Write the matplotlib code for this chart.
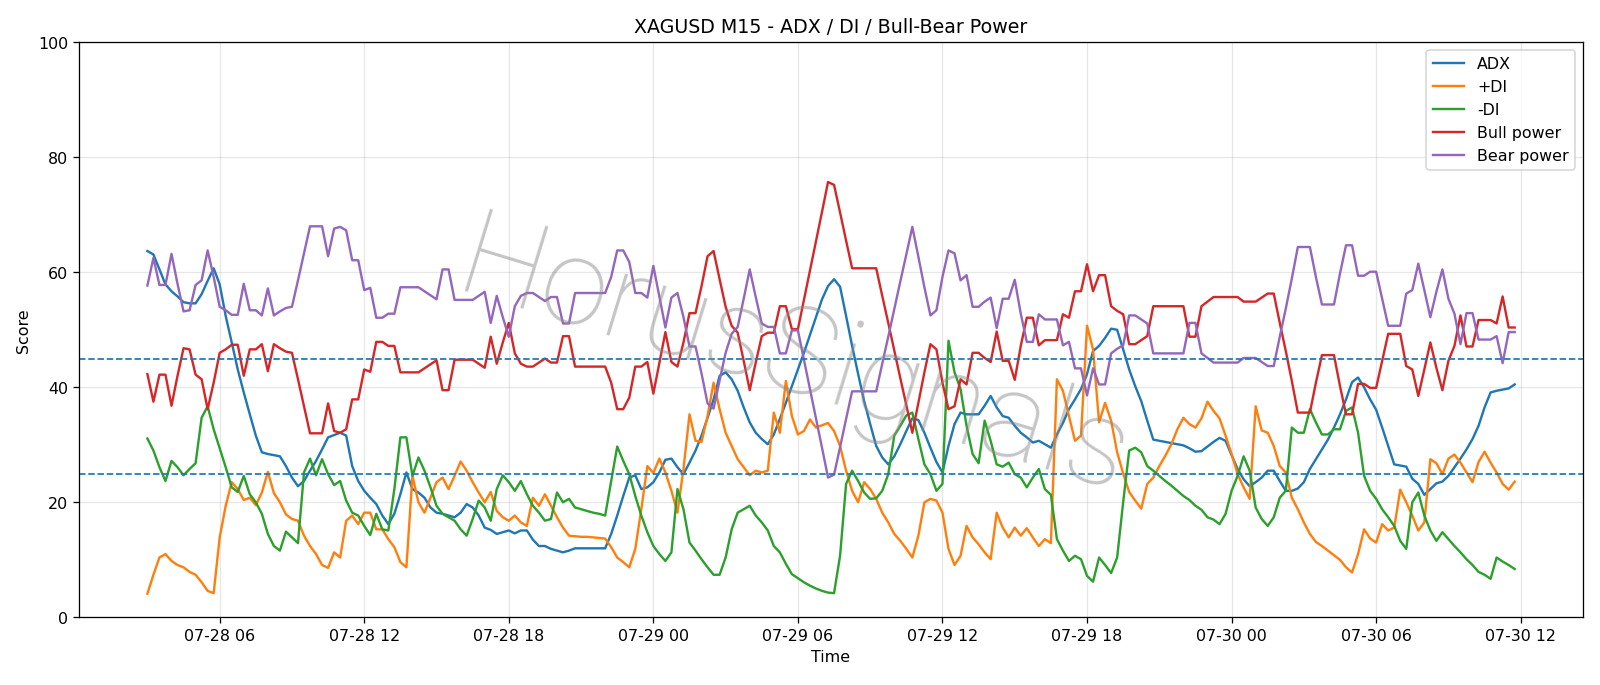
import matplotlib
matplotlib.use("Agg")
import matplotlib.pyplot as plt
import matplotlib.dates as mdates
from matplotlib.font_manager import FontProperties
import pandas as pd

# ---- data (15-minute bars, 2025-07-28 03:00 .. 2025-07-30 11:45) ----
start_time = "2025-07-28 03:00"
n_bars = 228

adx = [
    63.7, 63.1, 60.5, 57.9, 56.7, 55.8, 54.8, 54.6, 54.6, 56.2, 58.5, 60.7, 57.9, 52.4, 47.8, 43.1,
    39.1, 35.3, 31.6, 28.7, 28.4, 28.2, 28.0, 26.3, 24.3, 22.8, 23.7, 25.5, 27.2, 29.2, 31.3, 31.7,
    32.1, 31.6, 26.3, 23.7, 22.0, 20.8, 19.7, 17.7, 16.2, 18.0, 21.4, 25.2, 22.3, 21.7, 20.8, 19.1,
    18.2, 18.0, 17.7, 17.4, 18.2, 19.7, 19.1, 17.7, 15.6, 15.2, 14.5, 14.8, 15.1, 14.6, 15.1, 15.1, 13.5,
    12.4, 12.4, 11.9, 11.6, 11.3, 11.6, 12.0, 12.0, 12.0, 12.0, 12.0, 12.0, 14.5, 17.7, 21.1, 24.3,
    24.7, 22.3, 22.6, 23.5, 25.2, 27.4, 27.6, 26.1, 24.9, 26.9, 29.0, 31.6, 34.7, 37.9, 42.0, 42.6,
    41.4, 39.4, 36.5, 33.9, 32.1, 31.0, 30.1, 31.8, 34.5, 37.3, 40.2, 43.1, 46.0, 49.1, 52.2, 55.3,
    57.6, 58.8, 57.5, 52.4, 47.2, 42.3, 37.6, 33.6, 29.8, 27.8, 26.6, 28.0, 30.1, 32.4, 34.6,
    34.3, 32.1, 29.5, 27.0, 25.2, 29.8, 33.6, 35.6, 35.3, 35.3, 35.3, 36.8, 38.5, 36.5, 35.0, 34.7,
    33.3, 32.1, 31.3, 30.4, 30.7, 30.1, 29.5, 31.8, 33.8, 36.2, 37.9, 39.7, 42.3, 46.3, 47.2, 48.6, 50.2,
    50.0, 46.6, 43.1, 40.2, 37.6, 34.2, 30.9, 30.7, 30.5, 30.3, 30.1, 29.9, 29.4, 28.8, 28.9, 29.7,
    30.5, 31.2, 30.7, 28.2, 25.8, 24.0, 22.8, 23.5, 24.3, 25.5, 25.5, 23.7, 22.0, 22.0, 22.4, 23.5,
    25.8, 27.5, 29.2, 30.9, 33.0, 35.3, 37.9, 40.9, 41.7, 40.0, 37.9, 36.1, 33.0, 29.8, 26.6, 26.4,
    26.2, 24.1, 23.2, 21.3, 22.3, 23.3, 23.6, 24.6, 26.1, 27.6, 29.2, 31.0, 33.3, 36.5, 39.1, 39.4,
    39.6, 39.8, 40.5,
]

plus_di = [
    4.1, 7.4, 10.4, 11.0, 9.8, 9.1, 8.7, 7.9, 7.4, 6.1, 4.6, 4.2, 13.9, 19.4, 23.5, 22.3,
    20.4, 20.8, 19.5, 21.7, 25.3, 21.6, 20.0, 17.9, 17.1, 16.8, 14.2, 12.4, 11.0, 9.1, 8.6, 11.3,
    10.4, 16.8, 17.7, 16.2, 18.2, 18.2, 15.3, 15.3, 13.6, 12.2, 9.6, 8.7, 24.6, 20.0, 18.2, 20.8,
    23.5, 24.3, 22.3, 24.6, 27.1, 25.5, 23.5, 21.7, 20.0, 21.8, 18.5, 17.4, 16.8, 17.7, 16.5, 15.9, 20.8,
    19.4, 21.4, 19.4, 17.4, 15.6, 14.2, 14.1, 14.0, 14.0, 13.9, 13.8, 13.7, 12.2, 10.4, 9.6, 8.7,
    11.9, 18.8, 26.3, 25.1, 27.6, 25.2, 22.0, 18.2, 25.8, 35.3, 30.7, 30.5, 35.0, 40.8, 36.2, 32.1,
    29.8, 27.5, 26.1, 24.7, 25.5, 25.2, 25.5, 35.6, 32.1, 41.1, 35.0, 31.8, 32.4, 34.4, 33.0, 33.4,
    33.8, 32.4, 29.8, 25.5, 22.0, 20.0, 23.5, 22.3, 20.6, 18.2, 16.5, 14.5, 13.3, 11.9, 10.4,
    14.2, 20.0, 20.6, 20.3, 18.2, 11.9, 9.1, 10.7, 15.9, 13.9, 12.7, 11.3, 10.1, 18.2, 15.6, 13.9,
    15.6, 14.2, 15.5, 13.9, 12.4, 13.6, 12.9, 41.4, 39.4, 35.0, 30.7, 31.6, 50.7, 46.6, 33.9, 37.3, 34.2,
    28.7, 25.0, 21.8, 20.3, 18.9, 23.2, 24.3, 26.3, 28.1, 30.1, 32.7, 34.7, 33.6, 33.0, 34.6, 37.5,
    35.9, 34.6, 31.6, 28.4, 24.9, 22.6, 20.6, 36.7, 32.5, 32.1, 29.8, 26.3, 25.2, 20.8, 18.8, 16.5,
    14.5, 13.1, 12.4, 11.6, 10.8, 10.0, 8.7, 7.8, 11.0, 15.3, 13.7, 13.0, 16.2, 15.1, 15.6, 22.2,
    20.0, 17.7, 15.1, 16.5, 27.5, 26.8, 24.9, 27.6, 28.3, 26.9, 25.2, 23.5, 27.0, 28.8, 26.9, 25.2,
    23.2, 22.2, 23.6,
]

minus_di = [
    31.1, 29.0, 26.1, 23.7, 27.2, 26.1, 24.7, 25.8, 26.8, 34.7, 36.7, 32.7, 29.4, 26.1, 22.6, 21.8,
    24.6, 21.4, 20.0, 18.0, 14.5, 12.4, 11.6, 14.9, 13.9, 12.9, 25.2, 27.6, 24.7, 27.5, 24.9, 23.0,
    23.7, 20.3, 18.2, 17.7, 15.9, 14.3, 18.0, 15.3, 15.1, 22.3, 31.3, 31.3, 24.6, 27.8, 25.5, 22.6,
    19.4, 18.0, 17.4, 16.8, 15.3, 14.2, 17.1, 20.3, 19.1, 16.8, 22.3, 24.7, 23.5, 22.0, 23.7, 21.4, 19.4,
    18.2, 16.8, 17.1, 21.7, 20.0, 20.6, 19.1, 18.8, 18.5, 18.2, 18.0, 17.7, 23.7, 29.7, 27.2, 24.9,
    21.1, 17.7, 14.8, 12.4, 11.0, 9.8, 11.3, 22.3, 18.8, 13.0, 11.6, 10.1, 8.7, 7.4, 7.4, 10.4,
    15.3, 18.2, 18.8, 19.4, 17.7, 16.5, 15.1, 12.4, 11.3, 9.3, 7.5, 6.8, 6.1, 5.5, 5.0, 4.6,
    4.3, 4.2, 10.7, 23.2, 25.5, 23.7, 21.7, 20.6, 20.7, 22.0, 24.9, 31.6, 33.3, 35.1, 35.6,
    31.0, 26.6, 24.9, 22.0, 23.2, 48.1, 42.6, 39.7, 33.3, 28.4, 26.8, 34.2, 30.7, 26.6, 26.2, 26.9,
    24.9, 24.3, 22.6, 24.3, 25.8, 22.3, 21.3, 13.6, 11.6, 9.8, 10.7, 10.1, 7.2, 6.2, 10.4, 9.1, 7.7,
    10.4, 20.0, 29.0, 29.5, 28.7, 26.3, 25.5, 24.6, 23.7, 22.9, 22.0, 21.1, 20.4, 19.4, 18.7, 17.4,
    17.0, 16.2, 18.0, 22.0, 24.6, 28.0, 25.5, 19.1, 17.1, 15.9, 17.4, 20.8, 22.0, 33.0, 32.1, 32.1,
    36.2, 33.9, 31.8, 31.8, 32.7, 32.7, 35.9, 36.5, 32.1, 24.6, 22.0, 20.6, 18.8, 17.4, 15.9, 13.3,
    11.9, 20.0, 21.7, 17.7, 15.1, 13.3, 14.8, 13.6, 12.4, 11.3, 10.1, 9.1, 7.9, 7.4, 6.7, 10.4,
    9.7, 9.1, 8.4,
]

bull_power = [
    42.3, 37.5, 42.2, 42.2, 36.8, 42.0, 46.8, 46.6, 42.2, 41.4, 36.2, 40.8, 46.0, 46.6, 47.4, 47.4,
    42.0, 46.6, 46.6, 47.5, 42.8, 47.5, 46.8, 46.2, 46.0, 41.4, 36.7, 32.0, 32.0, 32.0, 37.2, 32.4,
    32.1, 32.7, 37.9, 37.9, 43.1, 42.7, 47.9, 47.9, 47.2, 47.2, 42.6, 42.6, 42.6, 42.6, 43.3, 44.0,
    44.7, 39.5, 39.5, 44.8, 44.8, 44.8, 44.8, 44.1, 43.4, 48.8, 44.1, 47.8, 51.2, 45.9, 44.1, 43.6, 43.6,
    44.3, 45.0, 44.3, 44.3, 48.9, 48.9, 43.6, 43.6, 43.6, 43.6, 43.6, 43.6, 40.8, 36.2, 36.2, 38.2,
    43.6, 43.6, 44.4, 38.9, 44.3, 49.6, 44.4, 43.6, 47.8, 52.9, 52.9, 57.6, 62.8, 63.7, 58.8, 54.0,
    50.7, 49.5, 44.6, 39.5, 44.3, 48.9, 49.5, 49.5, 54.1, 54.1, 50.1, 50.1, 55.2, 60.3, 65.4, 70.5,
    75.7, 75.2, 70.4, 65.5, 60.7, 60.7, 60.7, 60.7, 60.7, 55.9, 51.2, 46.4, 41.6, 36.9, 32.1,
    37.3, 42.6, 47.5, 46.6, 40.8, 36.2, 36.7, 41.4, 40.5, 46.0, 46.0, 45.1, 44.4, 49.7, 44.6, 44.6,
    41.3, 47.2, 52.1, 52.1, 47.3, 48.2, 48.2, 48.2, 52.7, 52.1, 56.7, 56.7, 61.4, 56.7, 59.5, 59.5, 54.1,
    53.3, 52.7, 47.5, 47.5, 48.2, 48.9, 54.1, 54.1, 54.1, 54.1, 54.1, 54.1, 48.8, 48.8, 54.1, 54.9,
    55.7, 55.7, 55.7, 55.7, 55.7, 54.9, 54.9, 54.9, 55.6, 56.3, 56.3, 51.2, 46.3, 41.1, 35.6, 35.6,
    35.6, 40.8, 45.6, 45.6, 45.6, 40.2, 35.3, 35.3, 40.6, 40.6, 39.9, 39.9, 44.6, 49.3, 49.3, 49.3,
    43.7, 43.1, 38.5, 43.1, 47.8, 43.4, 39.5, 44.6, 47.2, 52.5, 47.1, 47.1, 51.7, 51.7, 51.7, 51.1,
    55.8, 50.4, 50.4,
]

bear_power = [
    57.7, 62.5, 57.8, 57.8, 63.2, 58.0, 53.2, 53.4, 57.8, 58.6, 63.8, 59.2, 54.0, 53.4, 52.6, 52.6,
    58.0, 53.4, 53.4, 52.5, 57.2, 52.5, 53.2, 53.8, 54.0, 58.6, 63.3, 68.0, 68.0, 68.0, 62.8, 67.6,
    67.9, 67.3, 62.1, 62.1, 56.9, 57.3, 52.1, 52.1, 52.8, 52.8, 57.4, 57.4, 57.4, 57.4, 56.7, 56.0,
    55.3, 60.5, 60.5, 55.2, 55.2, 55.2, 55.2, 55.9, 56.6, 51.2, 55.9, 52.2, 48.8, 54.1, 55.9, 56.4, 56.4,
    55.7, 55.0, 55.7, 55.7, 51.1, 51.1, 56.4, 56.4, 56.4, 56.4, 56.4, 56.4, 59.2, 63.8, 63.8, 61.8,
    56.4, 56.4, 55.6, 61.1, 55.7, 50.4, 55.6, 56.4, 52.2, 47.1, 47.1, 42.4, 37.2, 36.3, 41.2, 46.0,
    49.3, 50.5, 55.4, 60.5, 55.7, 51.1, 50.5, 50.5, 45.9, 45.9, 49.9, 49.9, 44.8, 39.7, 34.6, 29.5,
    24.3, 24.8, 29.6, 34.5, 39.3, 39.3, 39.3, 39.3, 39.3, 44.1, 48.8, 53.6, 58.4, 63.1, 67.9,
    62.7, 57.4, 52.5, 53.4, 59.2, 63.8, 63.3, 58.6, 59.5, 54.0, 54.0, 54.9, 55.6, 50.3, 55.4, 55.4,
    58.7, 52.8, 47.9, 47.9, 52.7, 51.8, 51.8, 51.8, 47.3, 47.9, 43.3, 43.3, 38.6, 43.3, 40.5, 40.5, 45.9,
    46.7, 47.3, 52.5, 52.5, 51.8, 51.1, 45.9, 45.9, 45.9, 45.9, 45.9, 45.9, 51.2, 51.2, 45.9, 45.1,
    44.3, 44.3, 44.3, 44.3, 44.3, 45.1, 45.1, 45.1, 44.4, 43.7, 43.7, 48.8, 53.7, 58.9, 64.4, 64.4,
    64.4, 59.2, 54.4, 54.4, 54.4, 59.8, 64.7, 64.7, 59.4, 59.4, 60.1, 60.1, 55.4, 50.7, 50.7, 50.7,
    56.3, 56.9, 61.5, 56.9, 52.2, 56.6, 60.5, 55.4, 52.8, 47.5, 52.9, 52.9, 48.3, 48.3, 48.3, 48.9,
    44.2, 49.6, 49.6,
]

threshold_levels = [25, 45]
title = "XAGUSD M15 - ADX / DI / Bull-Bear Power"
watermark = "HorusSignals"

# ---- plot ----
DPI = 1600 / 14
times = pd.date_range(start_time, periods=n_bars, freq="15min")

fig = plt.figure(figsize=(14, 6), dpi=DPI)
ax = fig.add_axes([0.0494, 0.0987, 0.94, 0.8386])

ax.plot(times, adx, label="ADX", color="C0", lw=1.5)
ax.plot(times, plus_di, label="+DI", color="C1", lw=1.5)
ax.plot(times, minus_di, label="-DI", color="C2", lw=1.5)
ax.plot(times, bull_power, label="Bull power", color="C3", lw=1.5)
ax.plot(times, bear_power, label="Bear power", color="C4", lw=1.5)

for lvl in threshold_levels:
    ax.axhline(lvl, color="C0", ls="--", lw=1.1)

ax.set_ylim(0, 100)
ax.set_title(title)
ax.set_xlabel("Time")
ax.set_ylabel("Score")
ax.grid(True, alpha=0.3)
ax.xaxis.set_major_locator(mdates.HourLocator(byhour=[0, 6, 12, 18]))
ax.xaxis.set_major_formatter(mdates.DateFormatter("%m-%d %H"))
ax.legend(loc="upper right")

# thin-weight watermark text across the middle of the figure
wm_font = FontProperties(family=["Roboto", "Lato", "DejaVu Sans"], weight=100, size=76)
fig.text(0.496, 0.473, watermark, fontproperties=wm_font, rotation=-17, color="#8c8c8c",
         alpha=0.5, ha="center", va="center", zorder=10)

fig.savefig("out.png", dpi=DPI)
